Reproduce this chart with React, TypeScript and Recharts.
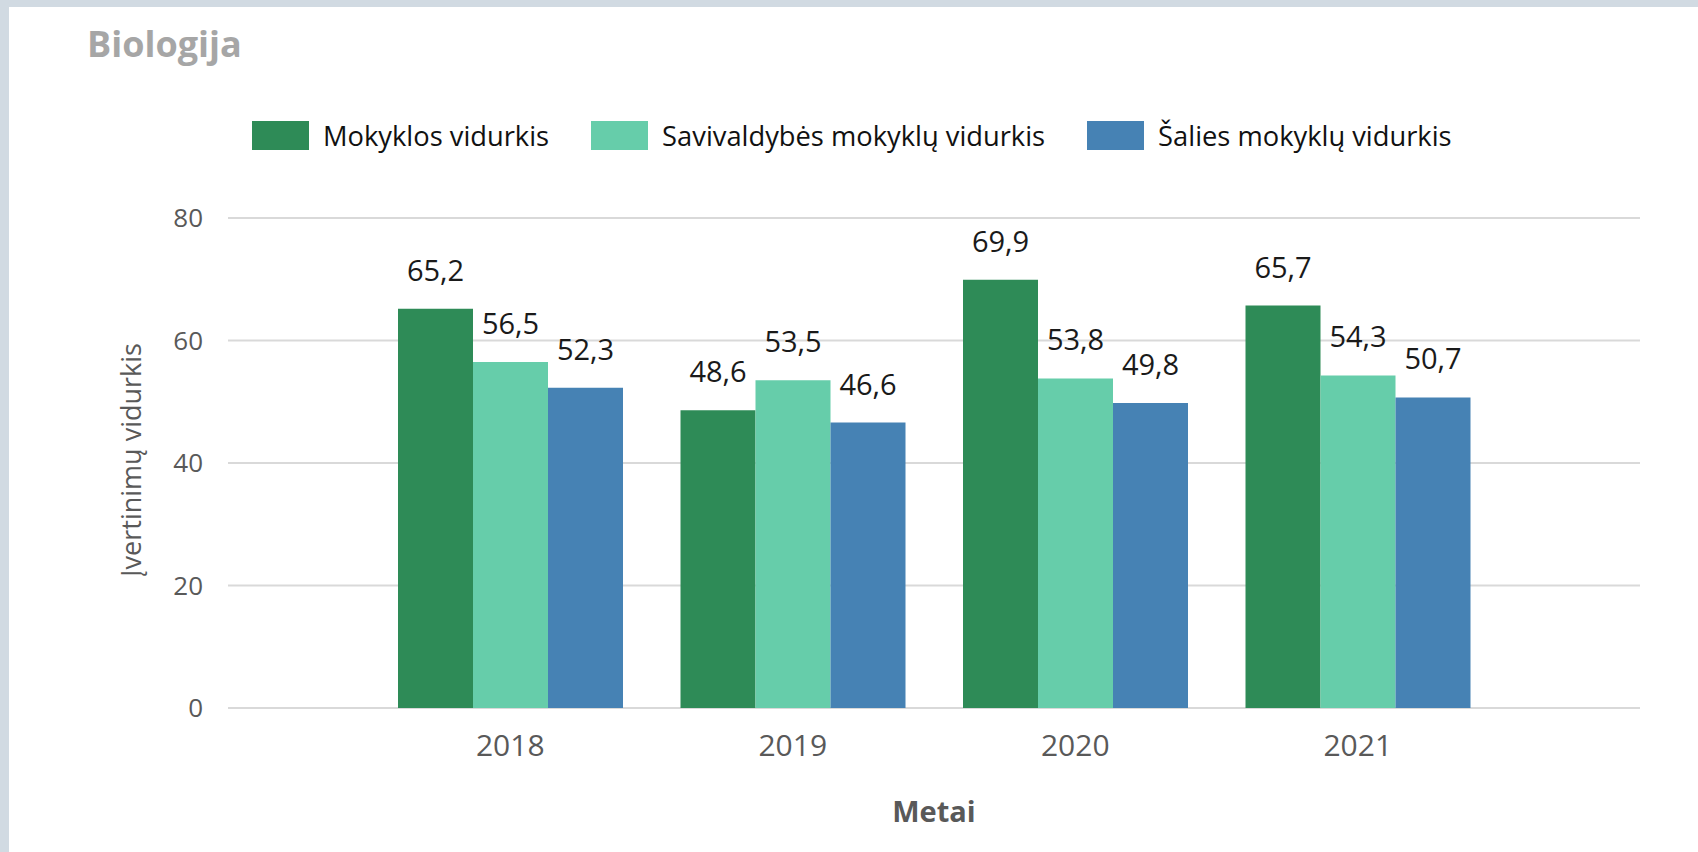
import { BarChart, Bar, XAxis, YAxis, CartesianGrid, Legend, LabelList } from 'recharts';

const years = ['2018', '2019', '2020', '2021'];
const mokyklos = [65.2, 48.6, 69.9, 65.7];
const savivaldybes = [56.5, 53.5, 53.8, 54.3];
const salies = [52.3, 46.6, 49.8, 50.7];
const yTicks = [0, 20, 40, 60, 80];

const series = [
  { key: 'mokyklos', name: 'Mokyklos vidurkis', color: '#2e8b57' },
  { key: 'savivaldybes', name: 'Savivaldybės mokyklų vidurkis', color: '#66cdaa' },
  { key: 'salies', name: 'Šalies mokyklų vidurkis', color: '#4682b4' },
];

const data = years.map((y, i) => ({
  year: y,
  mokyklos: mokyklos[i],
  savivaldybes: savivaldybes[i],
  salies: salies[i],
}));

const FONT = '"Open Sans", sans-serif';
const fmt = (v: number) => String(v).replace('.', ',');

function renderLegend() {
  return (
    <div style={{ display: 'flex', alignItems: 'center', fontFamily: FONT, fontSize: 27.3, color: '#111' }}>
      {series.map((s) => (
        <div key={s.key} style={{ display: 'flex', alignItems: 'center', marginRight: 42 }}>
          <div style={{ width: 57, height: 29, background: s.color, marginRight: 14 }} />
          <span>{s.name}</span>
        </div>
      ))}
    </div>
  );
}

// rotated y axis title, centred on the plot height
function YTitle({ viewBox }: any) {
  const cx = 121;
  const cy = viewBox.y + viewBox.height / 2 - 3;
  return (
    <text
      x={cx}
      y={cy}
      transform={`rotate(-90, ${cx}, ${cy})`}
      textAnchor="middle"
      dominantBaseline="central"
      fill="#595959"
      fontSize={27}
      fontFamily={FONT}
    >
      Įvertinimų vidurkis
    </text>
  );
}

export default function App() {
  return (
    <div style={{ position: 'fixed', left: 0, top: 0, width: 1698, height: 852, background: '#d1dae2' }}>
      <div style={{ position: 'absolute', left: 9, top: 7, width: 1689, height: 845, background: '#fff' }}>
        <div style={{ position: 'absolute', left: 78, top: 12, fontFamily: FONT, fontWeight: 700, fontSize: 36, color: '#a6a6a6' }}>
          Biologija
        </div>
        <BarChart
          width={1689}
          height={845}
          data={data}
          margin={{ top: 211, right: 58, bottom: 24, left: 0 }}
          barCategoryGap={29}
          barGap={0}
        >
          <CartesianGrid vertical={false} stroke="#d9d9d9" strokeWidth={2} />
          <XAxis
            dataKey="year"
            axisLine={false}
            tickLine={false}
            tickSize={0}
            tickMargin={27}
            height={120}
            padding={{ left: 141, right: 141 }}
            tick={{ fill: '#595959', fontSize: 30, fontFamily: FONT }}
            label={{ value: 'Metai', position: 'insideBottom', offset: 6, fill: '#595959', fontSize: 29, fontWeight: 700, fontFamily: FONT }}
          />
          <YAxis
            width={219}
            domain={[0, 80]}
            ticks={yTicks}
            axisLine={false}
            tickLine={false}
            tickSize={0}
            tickMargin={25}
            tick={{ fill: '#595959', fontSize: 26, fontFamily: FONT }}
            label={<YTitle />}
          />
          <Legend
            layout="horizontal"
            verticalAlign="middle"
            align="center"
            content={renderLegend}
            wrapperStyle={{ top: 110, left: 243, width: 1420 }}
          />
          {series.map((s) => (
            <Bar key={s.key} dataKey={s.key} name={s.name} fill={s.color} isAnimationActive={false}>
              <LabelList dataKey={s.key} position="top" offset={28} formatter={(v: number) => fmt(v)} fill="#1a1a1a" fontSize={29} fontFamily={FONT} />
            </Bar>
          ))}
        </BarChart>
      </div>
    </div>
  );
}
